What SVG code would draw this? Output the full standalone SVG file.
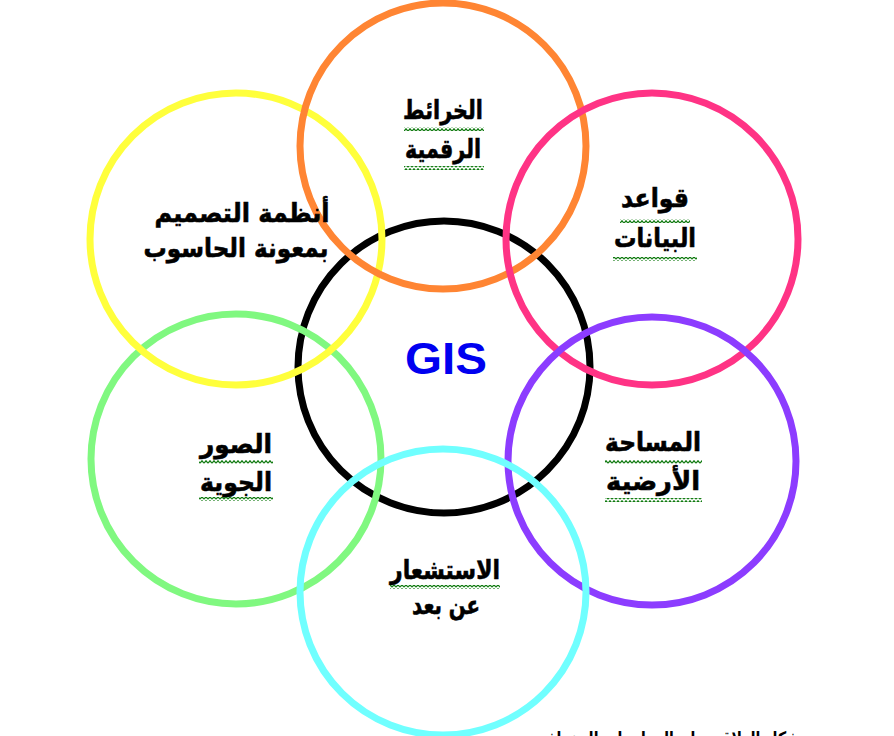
<svg xmlns="http://www.w3.org/2000/svg" width="894" height="736" viewBox="0 0 894 736">
<defs>
<style>
.c{fill:none;stroke-width:7}
.t{font-family:"DejaVu Sans",sans-serif;font-weight:bold;font-size:26px;fill:#000;stroke:#000;stroke-width:0.6;text-anchor:middle}
.g{font-family:"Liberation Sans",Arial,sans-serif;font-weight:bold;font-size:45px;fill:#0000f0;text-anchor:middle}
</style>
<pattern id="wave" width="4" height="4" patternUnits="userSpaceOnUse">
<path d="M0,3.2 L2,0.8 L4,3.2" fill="none" stroke="#107a10" stroke-width="1.3"/>
</pattern>
</defs>
<rect width="894" height="736" fill="#fff"/>
<g id="connectors"></g>
<g id="circles">
<circle id="black" class="c" cx="444" cy="367" r="146" stroke="#000"/>
<circle id="green" class="c" cx="236" cy="459" r="145" stroke="#80f880"/>
<circle id="yellow" class="c" cx="236" cy="239" r="146" stroke="#ffff3c"/>
<circle id="orange" class="c" cx="443" cy="146" r="143" stroke="#ff8533"/>
<circle id="pink" class="c" cx="652" cy="239" r="146" stroke="#ff3385"/>
<circle id="purple" class="c" cx="652" cy="461" r="144" stroke="#8c3cff"/>
<circle id="cyan" class="c" cx="443" cy="592" r="143" stroke="#70ffff"/>
</g>
<g id="node-gis"><text class="g" x="446" y="374" textLength="82" lengthAdjust="spacingAndGlyphs">GIS</text></g>
<g id="node-maps">
<text class="t" x="443" y="119" textLength="80" lengthAdjust="spacingAndGlyphs">الخرائط</text>
<rect x="404" y="127" width="80" height="4" fill="url(#wave)"/>
<text class="t" x="443" y="158" textLength="76" lengthAdjust="spacingAndGlyphs">الرقمية</text>
<rect x="404" y="166" width="80" height="4" fill="url(#wave)"/>
</g>
<g id="node-db">
<text class="t" x="655" y="207" textLength="68" lengthAdjust="spacingAndGlyphs">قواعد</text>
<rect x="620" y="219" width="70" height="4" fill="url(#wave)"/>
<text class="t" x="655" y="247" textLength="82" lengthAdjust="spacingAndGlyphs">البيانات</text>
<rect x="613" y="257" width="84" height="4" fill="url(#wave)"/>
</g>
<g id="node-cad">
<text class="t" x="242" y="222" textLength="175" lengthAdjust="spacingAndGlyphs">أنظمة التصميم</text>
<text class="t" x="236" y="257" textLength="185" lengthAdjust="spacingAndGlyphs">بمعونة الحاسوب</text>
</g>
<g id="node-aerial">
<text class="t" x="236" y="453" textLength="72" lengthAdjust="spacingAndGlyphs">الصور</text>
<rect x="199" y="460" width="74" height="4" fill="url(#wave)"/>
<text class="t" x="236" y="491" textLength="72" lengthAdjust="spacingAndGlyphs">الجوية</text>
<rect x="199" y="497" width="74" height="4" fill="url(#wave)"/>
</g>
<g id="node-survey">
<text class="t" x="653" y="451" textLength="96" lengthAdjust="spacingAndGlyphs">المساحة</text>
<rect x="605" y="460" width="97" height="4" fill="url(#wave)"/>
<text class="t" x="653" y="490" textLength="94" lengthAdjust="spacingAndGlyphs">الأرضية</text>
<rect x="605" y="498" width="97" height="4" fill="url(#wave)"/>
</g>
<g id="node-rs">
<text class="t" x="445" y="579" textLength="110" lengthAdjust="spacingAndGlyphs">الاستشعار</text>
<rect x="390" y="585" width="110" height="4" fill="url(#wave)"/>
<text class="t" x="446" y="614" textLength="68" lengthAdjust="spacingAndGlyphs">عن بعد</text>
</g>
<g id="caption">
<text font-family="DejaVu Sans,sans-serif" font-weight="bold" font-size="20" text-anchor="end" x="800" y="746" textLength="267" lengthAdjust="spacingAndGlyphs">شكل العلاقة نظم المعلومات الجغرافية</text>
</g>
</svg>
